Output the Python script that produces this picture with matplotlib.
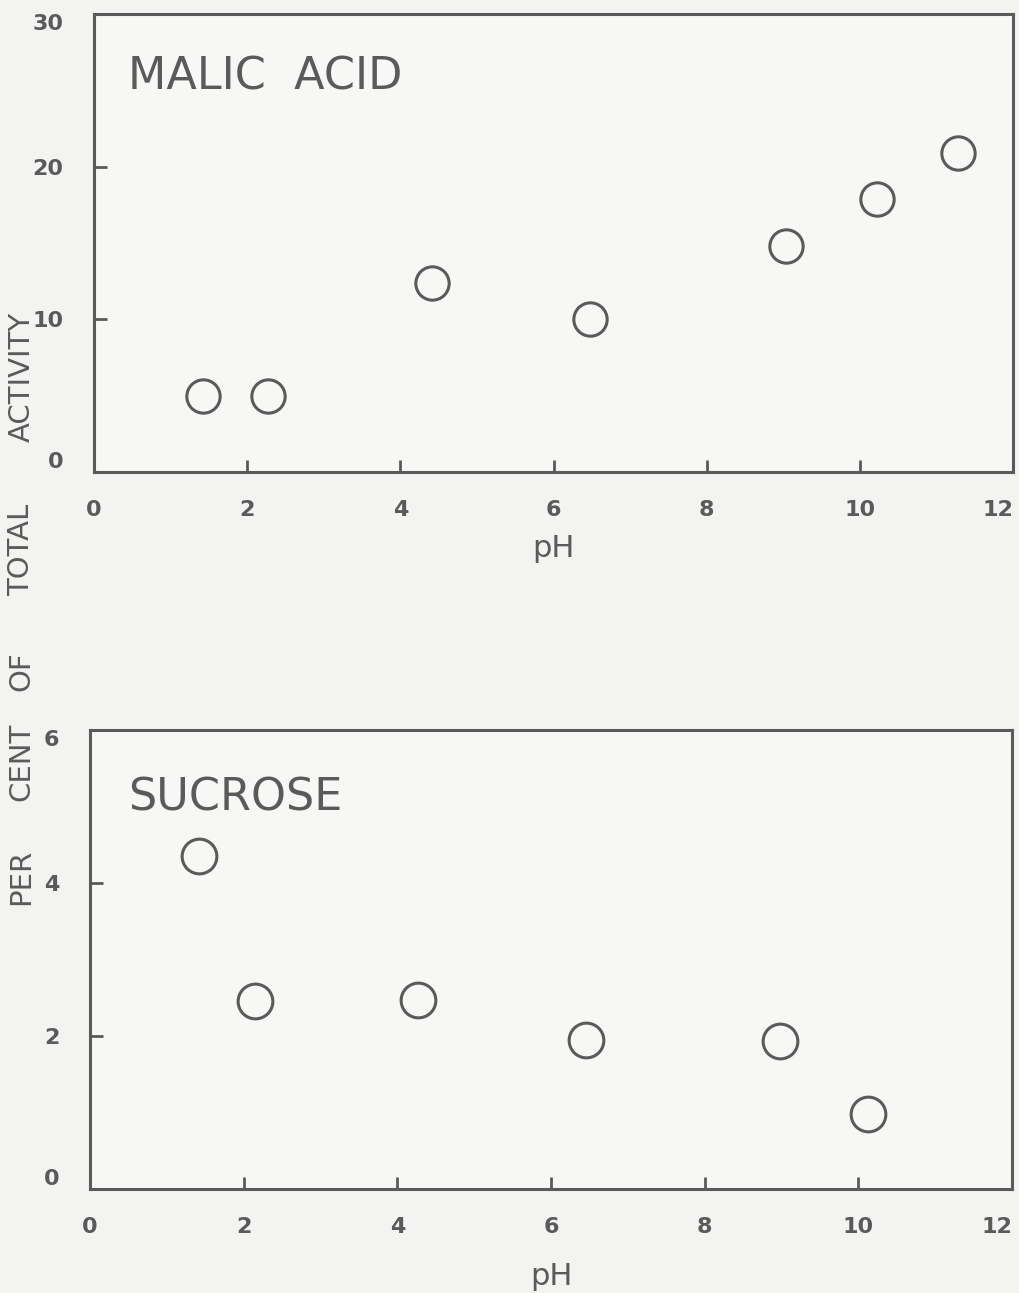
import matplotlib
matplotlib.use('Agg')
import matplotlib.pyplot as plt

# data
malic_ph = [1.42, 2.27, 4.41, 6.48, 9.03, 10.22, 11.28]
malic_act = [5.0, 5.0, 12.4, 10.0, 14.8, 17.9, 20.9]

sucrose_ph = [1.42, 2.15, 4.27, 6.46, 8.98, 10.13]
sucrose_act = [4.35, 2.46, 2.47, 1.95, 1.93, 0.98]

x_ticks = [0, 2, 4, 6, 8, 10, 12]
malic_yticks = [0, 10, 20, 30]
sucrose_yticks = [0, 2, 4, 6]

ylabel_words = ['ACTIVITY', 'TOTAL', 'OF', 'CENT', 'PER']
ylabel_pos = [0.7084, 0.5746, 0.4810, 0.4107, 0.3217]

INK = '#5a5a5a'
PAPER = '#f3f3f1'

plt.rcParams['font.family'] = ['DejaVu Sans']

fig = plt.figure(figsize=(10.2, 12.93), dpi=100, facecolor=PAPER)
ax1 = fig.add_axes([0.0922, 0.6350, 0.9010, 0.3542])
ax2 = fig.add_axes([0.0882, 0.0804, 0.9039, 0.3550])


def style(ax, yticks, ymax, xpad):
    ax.set_facecolor('#f7f7f5')
    ax.set_xlim(0, 12)
    ax.set_ylim(0, ymax)
    ax.set_xticks(x_ticks)
    ax.set_yticks(yticks)
    ax.set_xticklabels([str(t) for t in x_ticks])
    ax.set_yticklabels([str(t) for t in yticks])
    for s in ax.spines.values():
        s.set_color(INK)
        s.set_linewidth(2.2)
    ax.tick_params(direction='in', length=9, width=2, colors=INK,
                   labelsize=16, labelcolor=INK)
    ax.tick_params(axis='x', pad=20)
    ax.tick_params(axis='y', pad=22)
    for lab in ax.get_xticklabels() + ax.get_yticklabels():
        lab.set_fontweight('bold')
    ax.get_xticklabels()[-1].set_ha('right')
    ax.get_yticklabels()[-1].set_va('top')
    ax.get_yticklabels()[0].set_va('bottom')
    ax.set_xlabel('pH', fontsize=22, color=INK, labelpad=xpad)


ax1.plot(malic_ph, malic_act, 'o', ms=24, mfc='none', mec=INK, mew=2.2,
         clip_on=False)
style(ax1, malic_yticks, 30, 10)
ax1.text(0.037, 0.862, 'MALIC  ACID', transform=ax1.transAxes, fontsize=32,
         color=INK, va='center', ha='left')

ax2.plot(sucrose_ph, sucrose_act, 'o', ms=25, mfc='none', mec=INK, mew=2.2,
         clip_on=False)
style(ax2, sucrose_yticks, 6, 18)
ax2.text(0.041, 0.852, 'SUCROSE', transform=ax2.transAxes, fontsize=32,
         color=INK, va='center', ha='left')

for word, yp in zip(ylabel_words, ylabel_pos):
    fig.text(0.021, yp, word, rotation=90, fontsize=21, color=INK,
             ha='center', va='center')

fig.savefig('out.png', dpi=100, facecolor=PAPER)
